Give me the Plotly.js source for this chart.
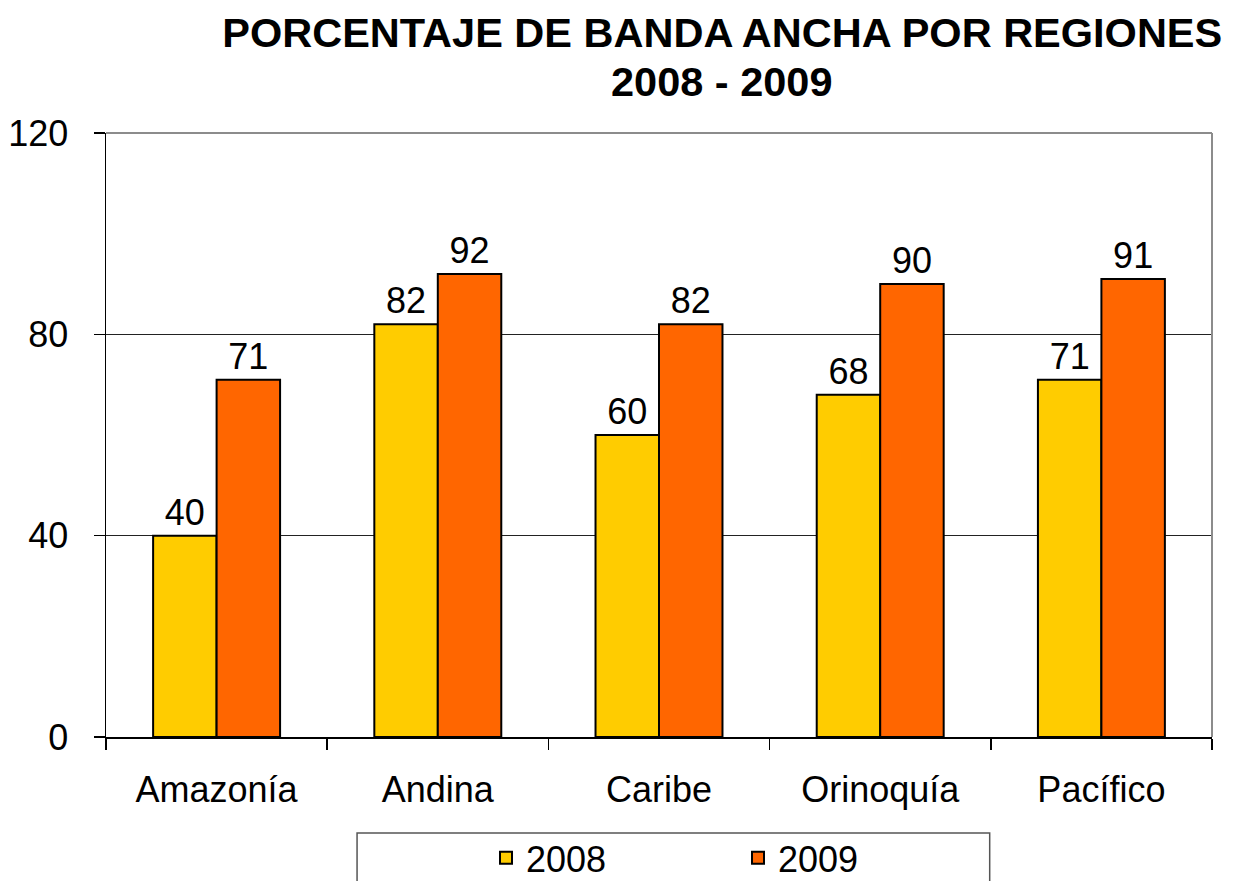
<!DOCTYPE html>
<html>
<head>
<meta charset="utf-8">
<script src="https://cdn.plot.ly/plotly-3.0.1.min.js"></script>
<style>
  html, body { margin: 0; padding: 0; background: #fff; }
  #chart { width: 1241px; height: 881px; }
</style>
</head>
<body>
<div id="chart"></div>
<script>
// Banda ancha por región, 2008 vs 2009
const regiones = ['Amazonía', 'Andina', 'Caribe', 'Orinoquía', 'Pacífico'];
const valores2008 = [40, 82, 60, 68, 71];
const valores2009 = [71, 92, 82, 90, 91];
const yTicks = [0, 40, 80, 120];

const FONT = '"Liberation Sans", Arial, sans-serif';

const barTrace = (name, values, color) => ({
  type: 'bar',
  name: name,
  x: regiones,
  y: values,
  text: values.map(String),
  textposition: 'outside',
  constraintext: 'none',
  cliponaxis: false,
  textfont: { family: FONT, size: 36, color: '#000' },
  marker: { color: color, line: { color: '#000', width: 2 } },
  hoverinfo: 'x+y'
});

const traces = [
  barTrace('2008', valores2008, '#FFCC00'),
  barTrace('2009', valores2009, '#FF6600')
];

const layout = {
  width: 1241,
  height: 881,
  margin: { l: 106, r: 29, t: 133, b: 144, autoexpand: false },
  paper_bgcolor: '#fff',
  plot_bgcolor: '#fff',
  font: { family: FONT, size: 36, color: '#000' },
  barmode: 'group',
  bargap: 0.426,
  bargroupgap: 0,
  title: {
    text: 'PORCENTAJE DE BANDA ANCHA POR REGIONES',
    font: { family: FONT, size: 41.5, weight: 'bold', color: '#000' },
    xref: 'container', x: 0.582, xanchor: 'center',
    yref: 'container', y: 0.9637, yanchor: 'middle'
  },
  annotations: [{
    text: '2008 - 2009',
    font: { family: FONT, size: 41.5, weight: 'bold', color: '#000' },
    xref: 'paper', yref: 'paper', x: 0.557, y: 1.086,
    xanchor: 'center', yanchor: 'middle', showarrow: false
  }],
  xaxis: {
    type: 'category',
    showgrid: false,
    showline: true, linecolor: '#000', linewidth: 1.5,
    ticks: 'outside', tickson: 'boundaries', ticklen: 11, tickcolor: '#000', tickwidth: 1.5,
    ticklabelstandoff: 20,
    tickfont: { family: FONT, size: 36, color: '#000' },
    fixedrange: true
  },
  yaxis: {
    range: [0, 120],
    tickvals: yTicks,
    ticktext: yTicks.map(String),
    showgrid: true, gridcolor: '#222', gridwidth: 1.2,
    zeroline: false,
    showline: true, linecolor: '#000', linewidth: 1.5,
    ticks: 'outside', ticklen: 11, tickcolor: '#000', tickwidth: 1.5,
    ticklabelstandoff: 18,
    tickfont: { family: FONT, size: 36, color: '#000' },
    fixedrange: true
  },
  showlegend: true,
  legend: {
    orientation: 'h',
    x: 0.3436, xanchor: 'left',
    y: -0.2, yanchor: 'middle',
    entrywidth: 207, entrywidthmode: 'pixels',
    font: { family: FONT, size: 36, color: '#000' },
    bgcolor: 'rgba(0,0,0,0)',
    borderwidth: 0
  },
  shapes: [
    // top and right border of the plot area
    { type: 'line', xref: 'paper', yref: 'paper', x0: 0, x1: 1, y0: 1, y1: 1,
      line: { color: '#8c8c8c', width: 2 }, layer: 'above' },
    { type: 'line', xref: 'paper', yref: 'paper', x0: 1, x1: 1, y0: 0, y1: 1,
      line: { color: '#8c8c8c', width: 2 }, layer: 'above' },
    // legend frame
    { type: 'rect', xref: 'paper', yref: 'paper', x0: 0.227, x1: 0.799, y0: -0.159, y1: -0.35,
      line: { color: '#555', width: 1.5 }, fillcolor: 'rgba(0,0,0,0)', layer: 'below' }
  ]
};

Plotly.newPlot('chart', traces, layout, { displayModeBar: false, staticPlot: true });
</script>
</body>
</html>
